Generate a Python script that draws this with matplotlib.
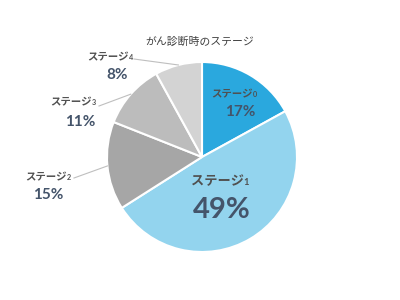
import numpy as np
import matplotlib.pyplot as plt

plt.rcParams['font.family'] = ['Noto Sans CJK JP', 'DejaVu Sans']

title = 'がん診断時のステージ'
stage_name = 'ステージ'
stage_nums = ['0', '1', '2', '3', '4']
values = [17, 49, 15, 11, 8]
colors = ['#2aa8de', '#93d4ee', '#a6a6a6', '#bcbcbc', '#d3d3d3']

W, H = 400, 300
fig = plt.figure(figsize=(4, 3), dpi=100)
ax = fig.add_axes([0, 0, 1, 1])
ax.axis('off')

cx, cy, r = 202, H - 157, 95
wedges, _ = ax.pie(values, colors=colors, startangle=90, counterclock=False,
                   center=(cx, cy), radius=r,
                   wedgeprops=dict(edgecolor='white', linewidth=1.5))
ax.set_xlim(0, W)
ax.set_ylim(0, H)
ax.set_aspect('equal')

ax.text(200, H - 42, title, ha='center', va='center', fontsize=7.8, color='#404040')

lab_col = '#505050'
pct_col = '#44546a'


def stage_label(x, y, i, size):
    # 「ステージ」と小さい数字を別々に描く
    ax.text(x, H - y, stage_name, ha='right', va='baseline', fontsize=size,
            color=lab_col, fontweight='bold')
    ax.text(x - 0.5, H - y, stage_nums[i], ha='left', va='baseline', fontsize=size * 0.7,
            color=lab_col, fontweight='bold', family='Lato')


def pct_label(x, y, i, size):
    ax.text(x, H - y, f'{values[i]}%', ha='center', va='center', fontsize=size,
            color=pct_col, fontweight='bold', family='Lato')


# 内側ラベル (ステージ0, ステージ1)
stage_label(253, 97, 0, 7.5)
pct_label(240, 112, 0, 11)
stage_label(244, 185, 1, 9.5)
pct_label(222, 210, 1, 21)

# 外側ラベル + 引出線 (ステージ2-4)
outer = {2: ((67, 180), (48, 195), (74, 178)),
         3: ((92, 105), (80, 122), (99, 106)),
         4: ((129, 60), (117, 75), (134, 59))}
for i, ((lx, ly), (px, py), (ex, ey)) in outer.items():
    w = wedges[i]
    mid = np.deg2rad((w.theta1 + w.theta2) / 2)
    edge = (cx + r * np.cos(mid), cy + r * np.sin(mid))
    ax.plot([ex, edge[0]], [H - ey, edge[1]], color='#bfbfbf', lw=0.8)
    stage_label(lx, ly, i, 7.5)
    pct_label(px, py, i, 11)

fig.savefig('out.png', dpi=100)
